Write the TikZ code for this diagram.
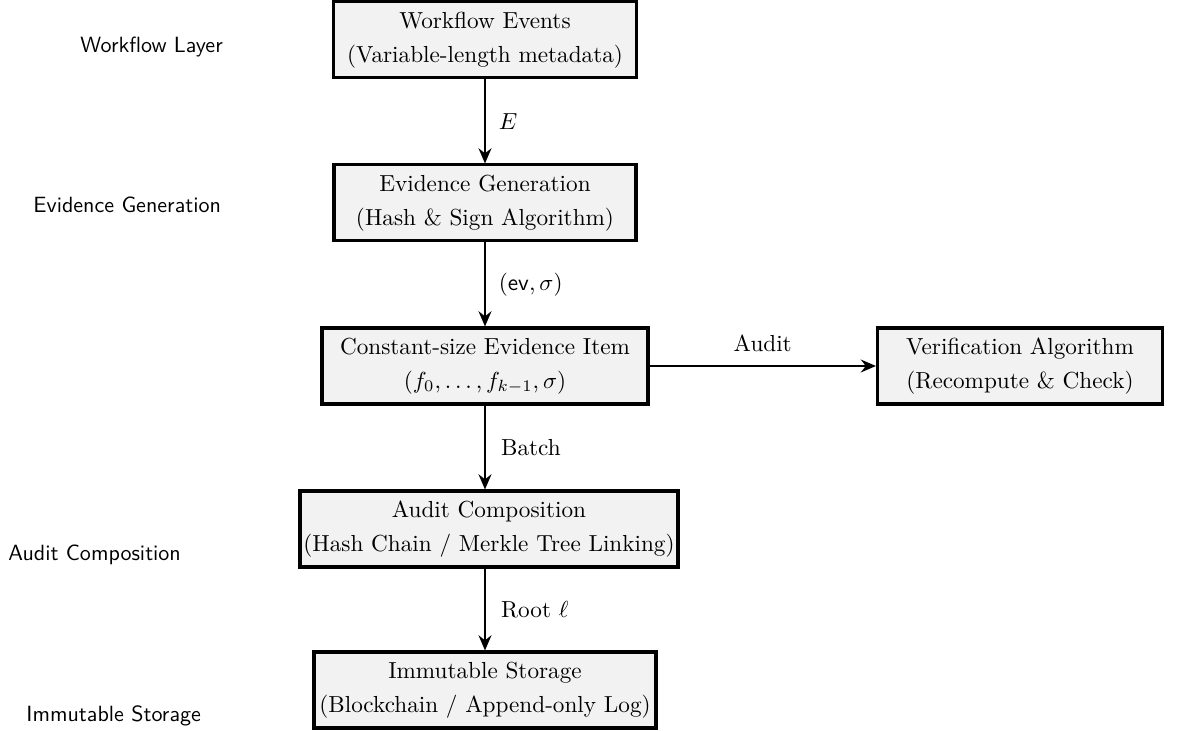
\documentclass[tikz,border=0pt]{standalone}
\usetikzlibrary{arrows.meta}
\begin{document}
\begin{tikzpicture}[x=0.431pt,y=-0.431pt,
  box/.style={draw=black,line width=1.3pt,fill=black!5,align=center,inner sep=0pt,minimum height=76*0.431pt},
  flow/.style={-{Stealth[length=6.5pt,width=5.5pt]},line width=1.2pt},
  layer/.style={font=\sffamily\fontsize{9.5}{11}\selectfont,anchor=west,inner sep=0pt},
  lab/.style={font=\normalsize}]
\useasboundingbox (0,0) rectangle (1186,731);
\node[box,minimum width=303*0.431pt] (we) at (485,40) {Workflow Events\\[2.5pt](Variable-length metadata)};
\node[box,minimum width=302*0.431pt] (eg) at (485,203) {Evidence Generation\\[2.5pt](Hash \& Sign Algorithm)};
\node[box,minimum width=326*0.431pt] (ce) at (485,366) {Constant-size Evidence Item\\[2.5pt]$(f_0,\dots,f_{k-1},\sigma)$};
\node[box,minimum width=285*0.431pt] (va) at (1020,366) {Verification Algorithm\\[2.5pt](Recompute \& Check)};
\node[box,minimum width=378*0.431pt] (ac) at (489,529) {Audit Composition\\[2.5pt](Hash Chain / Merkle Tree Linking)};
\node[box,minimum width=342*0.431pt] (is) at (485,690) {Immutable Storage\\[2.5pt](Blockchain / Append-only Log)};
\draw[flow] (we) -- node[right,lab,xshift=2pt] {$E$} (eg);
\draw[flow] (eg) -- node[right,lab,xshift=2pt] {$(\mathsf{ev},\sigma)$} (ce);
\draw[flow] (ce) -- node[above,lab,yshift=2pt] {Audit} (va);
\draw[flow] (ce.south) -- node[right,lab,xshift=3pt] {Batch} (ce.south |- ac.north);
\draw[flow] (ac.south -| is.north) -- node[right,lab,xshift=3pt] {Root $\ell$} (is);
\node[layer] (l1) at (80,47) {Workflow Layer};
\node[layer] (l2) at (33,205) {Evidence Generation};
\node[layer] (l3) at (8,555) {Audit Composition};
\node[layer] (l4) at (26,716) {Immutable Storage};
\end{tikzpicture}
\end{document}
